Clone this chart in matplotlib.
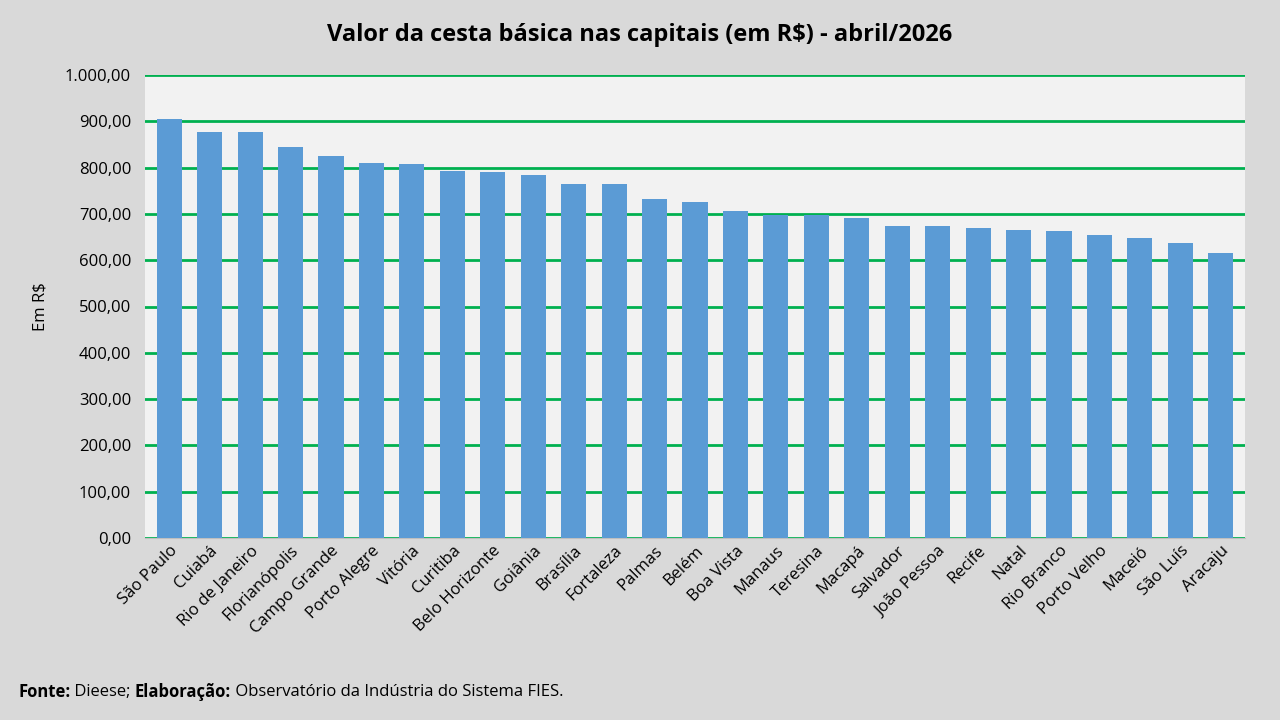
import matplotlib
matplotlib.use("Agg")
import matplotlib.pyplot as plt
from matplotlib.ticker import FuncFormatter, MultipleLocator

plt.rcParams['font.family'] = ['Open Sans', 'DejaVu Sans']

capitais = ["São Paulo", "Cuiabá", "Rio de Janeiro", "Florianópolis", "Campo Grande",
            "Porto Alegre", "Vitória", "Curitiba", "Belo Horizonte", "Goiânia",
            "Brasília", "Fortaleza", "Palmas", "Belém", "Boa Vista", "Manaus",
            "Teresina", "Macapá", "Salvador", "João Pessoa", "Recife", "Natal",
            "Rio Branco", "Porto Velho", "Maceió", "São Luís", "Aracaju"]
valores = [905, 877, 877, 845, 825, 810, 808, 793, 790, 784, 765, 765, 732, 726,
           706, 698, 698, 691, 674, 674, 670, 665, 663, 654, 648, 637, 616]

def fmt_br(v, pos=None):
    s = f"{v:,.2f}"
    return s.replace(",", "X").replace(".", ",").replace("X", ".")

fig = plt.figure(figsize=(12.8, 7.2), dpi=100)
fig.patch.set_facecolor('#d9d9d9')
ax = fig.add_axes([145/1280, 1 - 538/720, 1100/1280, 463/720])
ax.set_facecolor('#f2f2f2')

ax.bar(range(len(capitais)), valores, width=0.62, color='#5b9bd5', zorder=3)
ax.set_xlim(-0.6, len(capitais) - 0.4)
ax.set_ylim(0, 1000)
ax.yaxis.set_major_locator(MultipleLocator(100))
ax.yaxis.set_major_formatter(FuncFormatter(fmt_br))
ax.grid(axis='y', color='#00b050', linewidth=2, zorder=0)
for s in ['top', 'right', 'left']:
    ax.spines[s].set_visible(False)
ax.spines['bottom'].set_color('#bfbfbf')
ax.tick_params(axis='y', length=0, labelsize=12, pad=10)
ax.tick_params(axis='x', length=0, labelsize=12)
ax.set_xticks(range(len(capitais)))
ax.set_xticklabels(capitais, rotation=45, ha='right', rotation_mode='anchor')
ax.set_ylabel("Em R$", fontsize=12, labelpad=12)

fig.text(0.5, 1 - 35/720, "Valor da cesta básica nas capitais (em R$) - abril/2026",
         ha='center', va='center', fontsize=17, fontweight='bold')

# footer: mixed bold / regular pieces placed one after another
pieces = [("Fonte:", 'bold'), (" Dieese; ", 'normal'), ("Elaboração:", 'bold'),
          (" Observatório da Indústria do Sistema FIES.", 'normal')]
renderer = fig.canvas.get_renderer()
x = 18
for txt, w in pieces:
    t = fig.text(x/1280, 1 - 692/720, txt, ha='left', va='center', fontsize=12, fontweight=w)
    x += t.get_window_extent(renderer).width

fig.savefig("out.png", dpi=100, facecolor=fig.get_facecolor())
